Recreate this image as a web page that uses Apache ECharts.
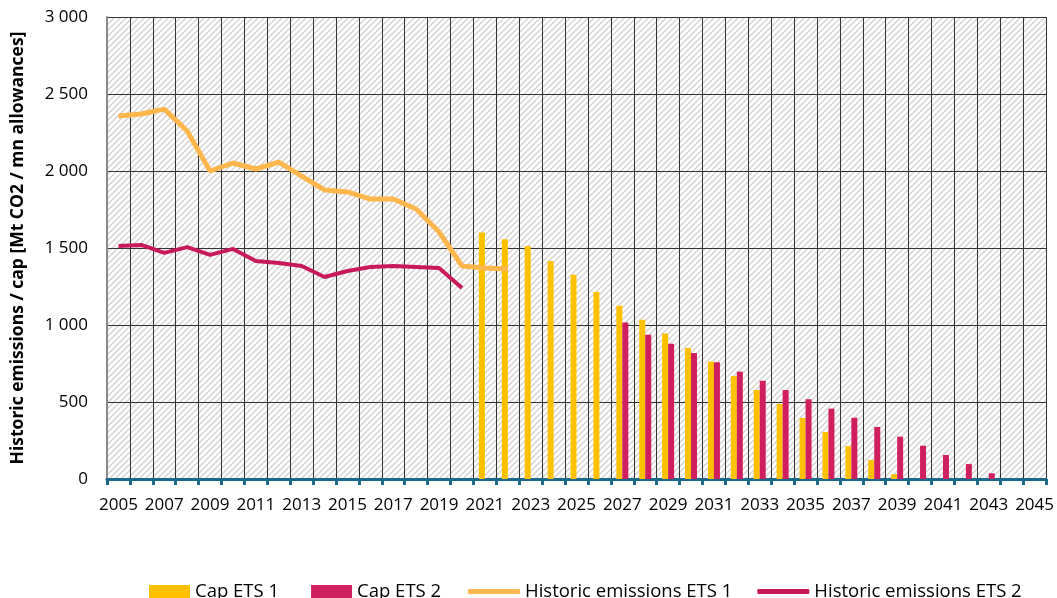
<!DOCTYPE html>
<html>
<head>
<meta charset="utf-8">
<script src="https://cdn.jsdelivr.net/npm/echarts@6/dist/echarts.min.js"></script>
<style>
  html, body { margin: 0; padding: 0; background: #fff; }
  #main { width: 1057px; height: 598px; }
</style>
</head>
<body>
<div id="main"></div>
<script>
// years on the category axis
var years = [];
for (var y = 2005; y <= 2045; y++) years.push(String(y));

// historic emissions (Mt CO2)
var histEts1Years = [2005, 2022];
var histEts1 = [2357, 2370, 2402, 2260, 2000, 2052, 2013, 2058, 1967, 1877,
                1864, 1818, 1818, 1753, 1604, 1383, 1370, 1364];
var histEts2Years = [2005, 2020];
var histEts2 = [1513, 1520, 1468, 1506, 1455, 1494, 1416, 1403, 1383, 1312,
                1351, 1377, 1383, 1377, 1370, 1240];

// caps (mn allowances)
var capEts1Start = 2021;
var capEts1 = [1600, 1557, 1513, 1416, 1327, 1214, 1125, 1034, 944, 851,
               762, 669, 578, 487, 396, 305, 214, 123, 31];
var capEts2Start = 2027;
var capEts2 = [1017, 937, 878, 818, 758, 697, 638, 578, 518, 457,
               398, 338, 275, 216, 156, 97, 37];

// y ticks
var yTicks = [0, 500, 1000, 1500, 2000, 2500, 3000];

function pad(startYear, values) {
  var out = years.map(function () { return null; });
  values.forEach(function (v, i) {
    out[startYear - 2005 + i] = v;
  });
  return out;
}

// diagonal hatch for the plot background
var T = 6;
var hatch = document.createElement('canvas');
hatch.width = T; hatch.height = T;
var ctx = hatch.getContext('2d');
ctx.fillStyle = '#ffffff';
ctx.fillRect(0, 0, T, T);
ctx.strokeStyle = '#d4d4d4';
ctx.lineWidth = 1.5;
ctx.beginPath();
ctx.moveTo(-1, T + 1); ctx.lineTo(T + 1, -1);
ctx.moveTo(-1, 1); ctx.lineTo(1, -1);
ctx.moveTo(T - 1, T + 1); ctx.lineTo(T + 1, T - 1);
ctx.stroke();

var FONT = '"Open Sans", sans-serif';
var legendText = { fontSize: 18.5, color: '#000', fontFamily: FONT };

var myChart = echarts.init(document.getElementById('main'));
var option = {
  animation: false,
  textStyle: { fontFamily: FONT },
  grid: {
    left: 107, right: 10, top: 17, bottom: 119,
    show: true,
    backgroundColor: { image: hatch, repeat: 'repeat' },
    borderWidth: 0
  },
  legend: [
    {
      left: 144,
      top: 577,
      itemWidth: 41,
      itemHeight: 13,
      itemGap: 32,
      icon: 'rect',
      textStyle: legendText,
      data: ['Cap ETS 1', 'Cap ETS 2']
    },
    {
      left: 463,
      top: 577,
      itemWidth: 52,
      itemHeight: 5,
      itemGap: 25,
      icon: 'roundRect',
      textStyle: legendText,
      data: ['Historic emissions ETS 1', 'Historic emissions ETS 2']
    }
  ],
  xAxis: {
    type: 'category',
    data: years,
    boundaryGap: true,
    axisLine: { lineStyle: { color: '#1B6A8C', width: 3 } },
    axisTick: { show: true, interval: 0, length: 6, lineStyle: { color: '#1B6A8C', width: 3 } },
    axisLabel: { interval: 1, color: '#000', fontSize: 17, margin: 18, fontFamily: FONT },
    splitLine: { show: true, interval: 0, lineStyle: { color: '#333', width: 1 } }
  },
  yAxis: {
    type: 'value',
    min: yTicks[0],
    max: yTicks[yTicks.length - 1],
    interval: 500,
    name: 'Historic emissions / cap [Mt CO2 / mn allowances]',
    nameLocation: 'middle',
    nameGap: 80,
    nameTextStyle: { fontSize: 17.5, fontWeight: 'bold', color: '#000', fontFamily: FONT },
    axisLine: { show: true, lineStyle: { color: '#8a8a8a', width: 2 } },
    axisTick: { show: false },
    axisLabel: {
      color: '#000', fontSize: 17, margin: 19, fontFamily: FONT,
      formatter: function (v) { return String(v).replace(/\B(?=(\d{3})+(?!\d))/g, ' '); }
    },
    splitLine: { show: true, lineStyle: { color: '#333', width: 1 } }
  },
  series: [
    {
      name: 'Cap ETS 1',
      type: 'bar',
      barWidth: 6,
      barGap: '0%',
      itemStyle: { color: '#FFC000' },
      data: pad(capEts1Start, capEts1)
    },
    {
      name: 'Cap ETS 2',
      type: 'bar',
      barWidth: 6,
      barGap: '0%',
      itemStyle: { color: '#D01F5E' },
      data: pad(capEts2Start, capEts2)
    },
    {
      name: 'Historic emissions ETS 1',
      type: 'line',
      symbol: 'none',
      lineStyle: { color: '#FFB74D', width: 5 },
      itemStyle: { color: '#FFB74D' },
      data: pad(histEts1Years[0], histEts1)
    },
    {
      name: 'Historic emissions ETS 2',
      type: 'line',
      symbol: 'none',
      lineStyle: { color: '#C8195A', width: 4 },
      itemStyle: { color: '#C8195A' },
      data: pad(histEts2Years[0], histEts2)
    }
  ]
};
myChart.setOption(option);
</script>
</body>
</html>
